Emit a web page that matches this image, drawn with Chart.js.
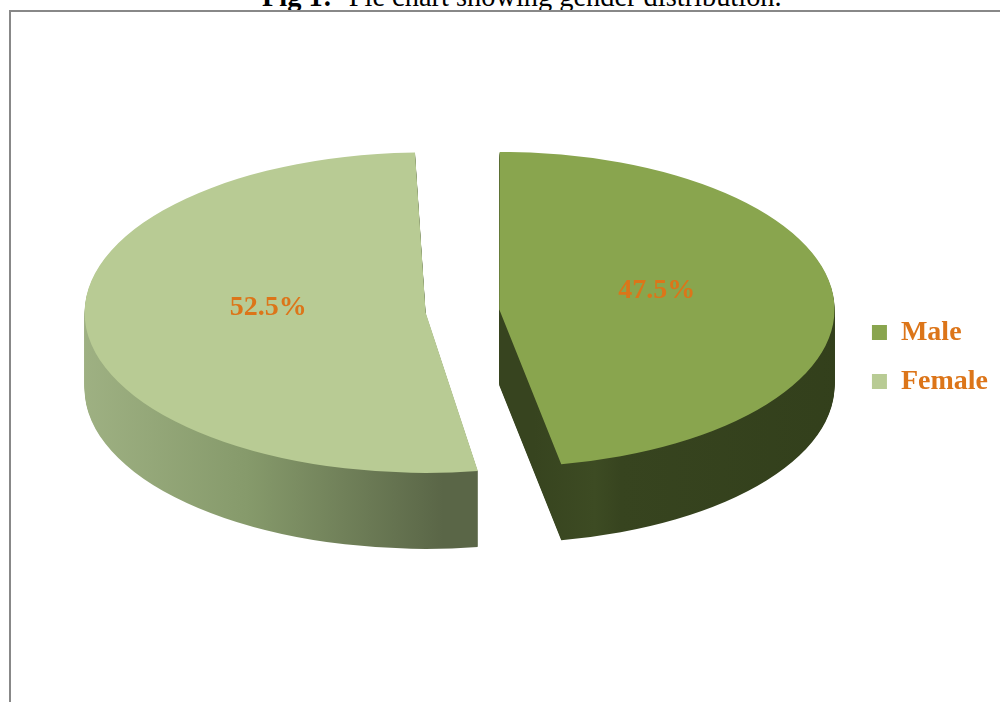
<!DOCTYPE html>
<html>
<head>
<meta charset="utf-8">
<script src="https://cdn.jsdelivr.net/npm/chart.js@4.4.0/dist/chart.umd.min.js"></script>
<style>
    html, body { margin: 0; padding: 0; background: #fff; overflow: hidden; }
    #wrap { position: relative; width: 1000px; height: 702px; overflow: hidden; }
    #frame { position: absolute; left: 9px; top: 10px; right: 0; bottom: 0;
             border-left: 2px solid #888; border-top: 2px solid #888; }
    #title { position: absolute; left: 262px; top: -17px; white-space: nowrap; color: #000;
             font: 28.4px/28px "Liberation Serif", "Times New Roman", serif; }
    #genderChart { position: absolute; left: 0; top: 0; }
</style>
</head>
<body>
<div id="wrap">
    <div id="title"><b>Fig 1:-</b> Pie chart showing gender distribution.</div>
    <div id="frame"></div>
    <canvas id="genderChart" width="1000" height="702"></canvas>
</div>
<script>
const genders   = ["Male", "Female"];
const shares    = [47.5, 52.5];
const topColors = ["#89a54e", "#b8cb94"];

(function () {
    "use strict";

    /* ================= 3D LOOK ================= */
    const tilt      = 0.47;   // vertical squash of the pie top
    const depth     = 76;     // height of the pie wall, px
    const centreY   = 311;    // where the pie centre sits on screen
    const labelLift = -12;
    const labelColor = "#dc7519";
    const serif = "'Liberation Serif', 'Times New Roman', serif";

    function project(ctx, arc, drop) {
        ctx.translate(0, centreY + drop);
        ctx.scale(1, tilt);
        ctx.translate(0, -arc.y);
    }

    function sideFills(ctx) {
        const male = ctx.createLinearGradient(497, 0, 835, 0);
        male.addColorStop(0, "#37441f");
        male.addColorStop(0.18, "#3d4b23");
        male.addColorStop(0.26, "#37441f");
        male.addColorStop(1, "#323f1b");
        const female = ctx.createLinearGradient(88, 0, 480, 0);
        female.addColorStop(0, "#a3b587");
        female.addColorStop(0.5, "#869a6b");
        female.addColorStop(1, "#5a6647");
        return [male, female];
    }

    const pie3d = {
        id: "pie3d",
        beforeDatasetsDraw(chart) {
            const ctx = chart.ctx;
            const arcs = chart.getDatasetMeta(0).data;
            const fills = sideFills(ctx);

            // wall: the same slices stacked downwards in a darker fill
            for (let k = depth; k >= 1; k--) {
                arcs.forEach(function (arc, i) {
                    const side = Object.create(arc);
                    side.options = Object.assign({}, arc.options, { backgroundColor: fills[i] });
                    ctx.save();
                    project(ctx, arc, k);
                    side.draw(ctx);
                    ctx.restore();
                });
            }

            ctx.save();
            project(ctx, arcs[0], 0);
        },
        afterDatasetsDraw(chart) {
            const ctx = chart.ctx;
            ctx.restore();

            const arcs = chart.getDatasetMeta(0).data;
            ctx.save();
            ctx.font = "bold 28px " + serif;
            ctx.fillStyle = labelColor;
            ctx.textAlign = "center";
            ctx.textBaseline = "middle";
            arcs.forEach(function (arc, i) {
                const mid = (arc.startAngle + arc.endAngle) / 2;
                const dist = arc.options.offset / 4 + arc.outerRadius * 0.52;
                const x = arc.x + Math.cos(mid) * dist;
                const y = centreY + Math.sin(mid) * dist * tilt + labelLift;
                ctx.fillText(shares[i].toFixed(1) + "%", x, y);
            });
            ctx.restore();
        }
    };

    new Chart(document.getElementById("genderChart"), {
        type: "pie",
        data: {
            labels: genders,
            datasets: [{
                data: shares,
                backgroundColor: topColors,
                borderWidth: 0,
                offset: 148,
                clip: false
            }]
        },
        options: {
            responsive: false,
            animation: false,
            rotation: -0.8,
            radius: 304,
            layout: { padding: { left: 74, top: 12, right: 2, bottom: 0 } },
            plugins: {
                legend: {
                    position: "right",
                    labels: {
                        boxWidth: 15,
                        boxHeight: 15,
                        padding: 21,
                        color: labelColor,
                        font: { family: serif, size: 28, weight: "bold" }
                    }
                },
                tooltip: { enabled: false }
            }
        },
        plugins: [pie3d]
    });
})();
</script>
</body>
</html>
